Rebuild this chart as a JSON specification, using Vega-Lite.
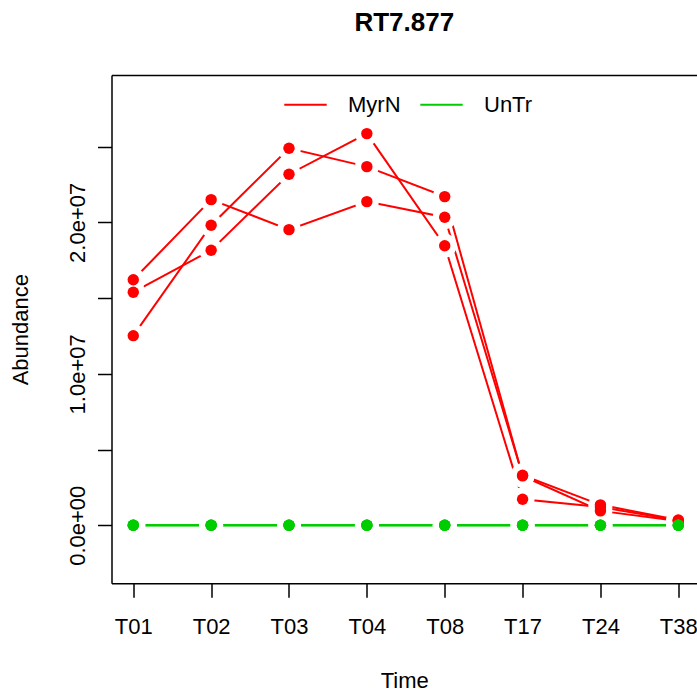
{
  "$schema": "https://vega.github.io/schema/vega-lite/v6.json",
  "width": 585.5,
  "height": 508.3,
  "autosize": "none",
  "padding": {"left": 111.5, "top": 75, "right": 0, "bottom": 108.7},
  "background": "white",
  "title": {
    "text": "RT7.877",
    "font": "Liberation Sans",
    "fontSize": 26,
    "fontWeight": "bold",
    "color": "black",
    "anchor": "middle",
    "frame": "group",
    "baseline": "alphabetic",
    "offset": 18
  },
  "config": {
    "view": {"stroke": null},
    "axis": {
      "labelFont": "Liberation Sans",
      "titleFont": "Liberation Sans",
      "labelFontSize": 22,
      "titleFontSize": 22,
      "titleFontWeight": "normal",
      "labelColor": "black",
      "titleColor": "black",
      "domainColor": "black",
      "domainWidth": 1.5,
      "tickColor": "black",
      "tickWidth": 1.5,
      "tickSize": 14,
      "grid": false
    },
    "legend": {
      "labelFont": "Liberation Sans",
      "labelFontSize": 22,
      "labelColor": "black"
    }
  },
  "data": {
    "values": [
      {"Time": "T01", "Group": "MyrN", "Rep": 1, "Abundance": 16210000},
      {"Time": "T02", "Group": "MyrN", "Rep": 1, "Abundance": 21500000},
      {"Time": "T03", "Group": "MyrN", "Rep": 1, "Abundance": 19520000},
      {"Time": "T04", "Group": "MyrN", "Rep": 1, "Abundance": 21370000},
      {"Time": "T08", "Group": "MyrN", "Rep": 1, "Abundance": 20340000},
      {"Time": "T17", "Group": "MyrN", "Rep": 1, "Abundance": 3300000},
      {"Time": "T24", "Group": "MyrN", "Rep": 1, "Abundance": 1350000},
      {"Time": "T38", "Group": "MyrN", "Rep": 1, "Abundance": 350000},
      {"Time": "T01", "Group": "MyrN", "Rep": 2, "Abundance": 15390000},
      {"Time": "T02", "Group": "MyrN", "Rep": 2, "Abundance": 18160000},
      {"Time": "T03", "Group": "MyrN", "Rep": 2, "Abundance": 23180000},
      {"Time": "T04", "Group": "MyrN", "Rep": 2, "Abundance": 25860000},
      {"Time": "T08", "Group": "MyrN", "Rep": 2, "Abundance": 18460000},
      {"Time": "T17", "Group": "MyrN", "Rep": 2, "Abundance": 1720000},
      {"Time": "T24", "Group": "MyrN", "Rep": 2, "Abundance": 1200000},
      {"Time": "T38", "Group": "MyrN", "Rep": 2, "Abundance": 320000},
      {"Time": "T01", "Group": "MyrN", "Rep": 3, "Abundance": 12520000},
      {"Time": "T02", "Group": "MyrN", "Rep": 3, "Abundance": 19810000},
      {"Time": "T03", "Group": "MyrN", "Rep": 3, "Abundance": 24890000},
      {"Time": "T04", "Group": "MyrN", "Rep": 3, "Abundance": 23680000},
      {"Time": "T08", "Group": "MyrN", "Rep": 3, "Abundance": 21700000},
      {"Time": "T17", "Group": "MyrN", "Rep": 3, "Abundance": 3260000},
      {"Time": "T24", "Group": "MyrN", "Rep": 3, "Abundance": 950000},
      {"Time": "T38", "Group": "MyrN", "Rep": 3, "Abundance": 280000},
      {"Time": "T01", "Group": "UnTr", "Rep": 1, "Abundance": 0},
      {"Time": "T02", "Group": "UnTr", "Rep": 1, "Abundance": 0},
      {"Time": "T03", "Group": "UnTr", "Rep": 1, "Abundance": 0},
      {"Time": "T04", "Group": "UnTr", "Rep": 1, "Abundance": 0},
      {"Time": "T08", "Group": "UnTr", "Rep": 1, "Abundance": 0},
      {"Time": "T17", "Group": "UnTr", "Rep": 1, "Abundance": 0},
      {"Time": "T24", "Group": "UnTr", "Rep": 1, "Abundance": 0},
      {"Time": "T38", "Group": "UnTr", "Rep": 1, "Abundance": 0},
      {"Time": "T01", "Group": "UnTr", "Rep": 2, "Abundance": 0},
      {"Time": "T02", "Group": "UnTr", "Rep": 2, "Abundance": 0},
      {"Time": "T03", "Group": "UnTr", "Rep": 2, "Abundance": 0},
      {"Time": "T04", "Group": "UnTr", "Rep": 2, "Abundance": 0},
      {"Time": "T08", "Group": "UnTr", "Rep": 2, "Abundance": 0},
      {"Time": "T17", "Group": "UnTr", "Rep": 2, "Abundance": 0},
      {"Time": "T24", "Group": "UnTr", "Rep": 2, "Abundance": 0},
      {"Time": "T38", "Group": "UnTr", "Rep": 2, "Abundance": 0},
      {"Time": "T01", "Group": "UnTr", "Rep": 3, "Abundance": 0},
      {"Time": "T02", "Group": "UnTr", "Rep": 3, "Abundance": 0},
      {"Time": "T03", "Group": "UnTr", "Rep": 3, "Abundance": 0},
      {"Time": "T04", "Group": "UnTr", "Rep": 3, "Abundance": 0},
      {"Time": "T08", "Group": "UnTr", "Rep": 3, "Abundance": 0},
      {"Time": "T17", "Group": "UnTr", "Rep": 3, "Abundance": 0},
      {"Time": "T24", "Group": "UnTr", "Rep": 3, "Abundance": 0},
      {"Time": "T38", "Group": "UnTr", "Rep": 3, "Abundance": 0}
    ]
  },
  "encoding": {
    "y": {
      "field": "Abundance",
      "type": "quantitative",
      "scale": {"domain": [-3830000, 29730000], "nice": false, "zero": false},
      "axis": {
        "title": "Abundance",
        "values": [0, 5000000, 10000000, 15000000, 20000000, 25000000],
        "labelExpr": "datum.value % 10000000 == 0 ? replace(format(datum.value, '.1e'), 'e+', 'e+0') : ''",
        "labelAngle": -90,
        "labelAlign": "center",
        "labelBaseline": "bottom",
        "labelPadding": 8,
        "titlePadding": 34
      }
    }
  },
  "layer": [
    {
      "mark": {"type": "line", "strokeWidth": 2},
      "encoding": {
        "x": {
          "field": "Time",
          "type": "ordinal",
          "sort": ["T01", "T02", "T03", "T04", "T08", "T17", "T24", "T38"],
          "scale": {"type": "point", "padding": 0.26, "align": 0.538},
          "axis": {"title": "Time", "orient": "bottom", "labelAngle": 0, "labelPadding": 19, "titlePadding": 33}
        },
        "color": {
          "field": "Group",
          "type": "nominal",
          "scale": {"domain": ["MyrN", "UnTr"], "range": ["#FF0000", "#00CD00"]},
          "legend": {
            "title": null,
            "orient": "none",
            "direction": "horizontal",
            "legendX": 171.5,
            "legendY": 7,
            "symbolType": "stroke",
            "symbolSize": 1800,
            "symbolStrokeWidth": 2,
            "labelOffset": 20,
            "columnPadding": 15
          }
        },
        "detail": {"field": "Rep", "type": "nominal"}
      }
    },
    {
      "mark": {"type": "point", "filled": true, "opacity": 1, "size": 570, "shape": "circle"},
      "encoding": {
        "x": {
          "field": "Time",
          "type": "ordinal",
          "sort": ["T01", "T02", "T03", "T04", "T08", "T17", "T24", "T38"],
          "axis": {"orient": "top", "labels": false, "ticks": false, "title": null}
        },
        "color": {"value": "white"}
      }
    },
    {
      "mark": {"type": "point", "filled": true, "opacity": 1, "size": 130, "shape": "circle"},
      "encoding": {
        "x": {
          "field": "Time",
          "type": "ordinal",
          "sort": ["T01", "T02", "T03", "T04", "T08", "T17", "T24", "T38"],
          "axis": null
        },
        "color": {"field": "Group", "type": "nominal"}
      }
    }
  ],
  "resolve": {"axis": {"x": "independent"}}
}
